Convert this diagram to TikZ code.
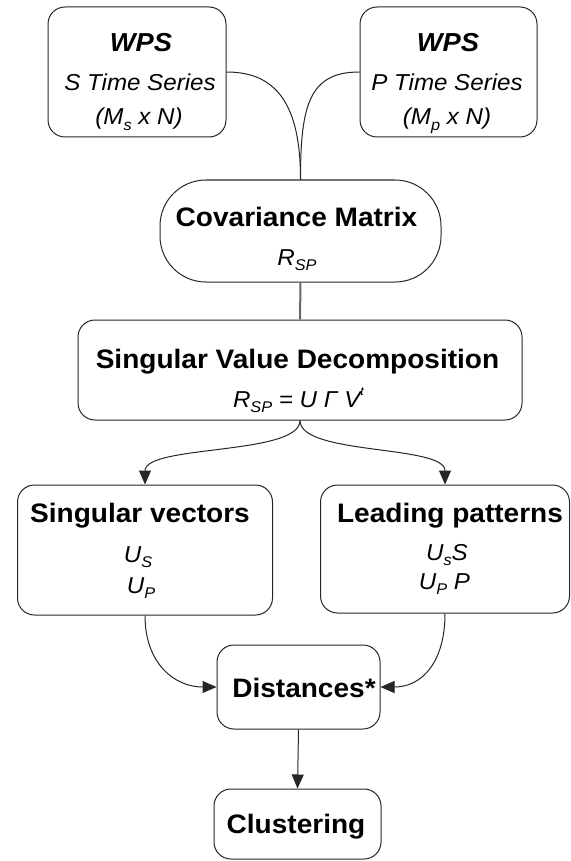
\documentclass[tikz,border=0pt]{standalone}
\usepackage{fontspec}
\setmainfont[FakeStretch=1.05]{Liberation Sans}
\usetikzlibrary{arrows.meta}
\newcommand\lowsub[1]{\raisebox{-0.45ex}{\fontsize{15.5}{16}\selectfont #1}}
\newcommand\highsup[1]{\raisebox{0.95ex}{\fontsize{12}{12}\selectfont #1}}
\begin{document}
\begin{tikzpicture}[x=1pt,y=-1pt,
  box/.style={draw=black!85, line width=1pt, rounded corners=17pt, inner sep=0pt},
  ttl/.style={font=\fontsize{26.7}{28}\selectfont\bfseries, inner sep=0pt, anchor=base},
  bit/.style={font=\fontsize{26}{28}\selectfont\bfseries\itshape, inner sep=0pt, anchor=base},
  itl/.style={font=\fontsize{23}{24}\selectfont\itshape, inner sep=0pt, anchor=base},
  conn/.style={line width=1pt, draw=black!85},
  arr/.style={conn, -{Triangle[length=14pt,width=12pt]}}]
\useasboundingbox (0,0) rectangle (570,861);

% boxes
\node[box, minimum width=178pt, minimum height=130pt] (wpsL) at (137,72) {};
\node[box, minimum width=177pt, minimum height=130pt] (wpsR) at (448.5,72) {};
\node[box, rounded corners=46pt, minimum width=281pt, minimum height=102pt] (cov) at (300.5,231) {};
\node[box, minimum width=444pt, minimum height=100pt] (svd) at (300,370) {};
\node[box, minimum width=255pt, minimum height=130pt] (sv) at (145,550) {};
\node[box, minimum width=249pt, minimum height=128pt] (lp) at (445,549) {};
\node[box, minimum width=163pt, minimum height=84pt] (dist) at (298.5,687) {};
\node[box, minimum width=167pt, minimum height=70pt] (clu) at (297.5,824) {};

% texts
\node[bit] (t1) at (141,52) {WPS};
\node[itl] (t2) at (140,91) {S Time Series};
\node[itl] (t3) at (139,125) {(M\lowsub{s} x N)};
\node[bit] (t4) at (448,52) {WPS};
\node[itl] (t5) at (447,91) {P Time Series};
\node[itl] (t6) at (447,125) {(M\lowsub{p} x N)};
\node[ttl] (t7) at (296.5,226) {Covariance Matrix};
\node[itl] (t8) at (297,265) {R\lowsub{SP}};
\node[ttl] (t9) at (297.5,368) {Singular Value Decomposition};
\node[itl] (t10) at (298.5,407) {R\lowsub{SP} = U Γ V\highsup{t}};
\node[ttl] (t11) at (140,522) {Singular vectors};
\node[itl] (t12) at (138,562) {U\lowsub{S}};
\node[itl] (t13) at (141,593) {U\lowsub{P}};
\node[ttl] (t14) at (450,522) {Leading patterns};
\node[itl] (t15) at (447,560) {U\lowsub{s}S};
\node[itl] (t16) at (444.5,589) {U\lowsub{P} P};
\node[ttl] (t17) at (304,697) {Distances*};
\node[ttl] (t18) at (296,833) {Clustering};

% connectors
\draw[conn] (wpsL.east) .. controls +(50,0) and +(0,-75) .. (cov.north);
\draw[conn] (wpsR.west) .. controls +(-50,0) and +(0,-75) .. (cov.north);
\draw[line width=2pt, black!60] (cov.south) -- (svd.north);
\draw[arr] (svd.south) .. controls +(0,35) and +(0,-40) .. (sv.north);
\draw[arr] (svd.south) .. controls +(0,35) and +(0,-40) .. (lp.north);
\draw[arr] (sv.south) .. controls +(0,48) and +(-42,0) .. (dist.west);
\draw[arr] (lp.south) .. controls +(0,48) and +(42,0) .. (dist.east);
\draw[arr] (dist.south) -- (clu.north);
\end{tikzpicture}
\end{document}
